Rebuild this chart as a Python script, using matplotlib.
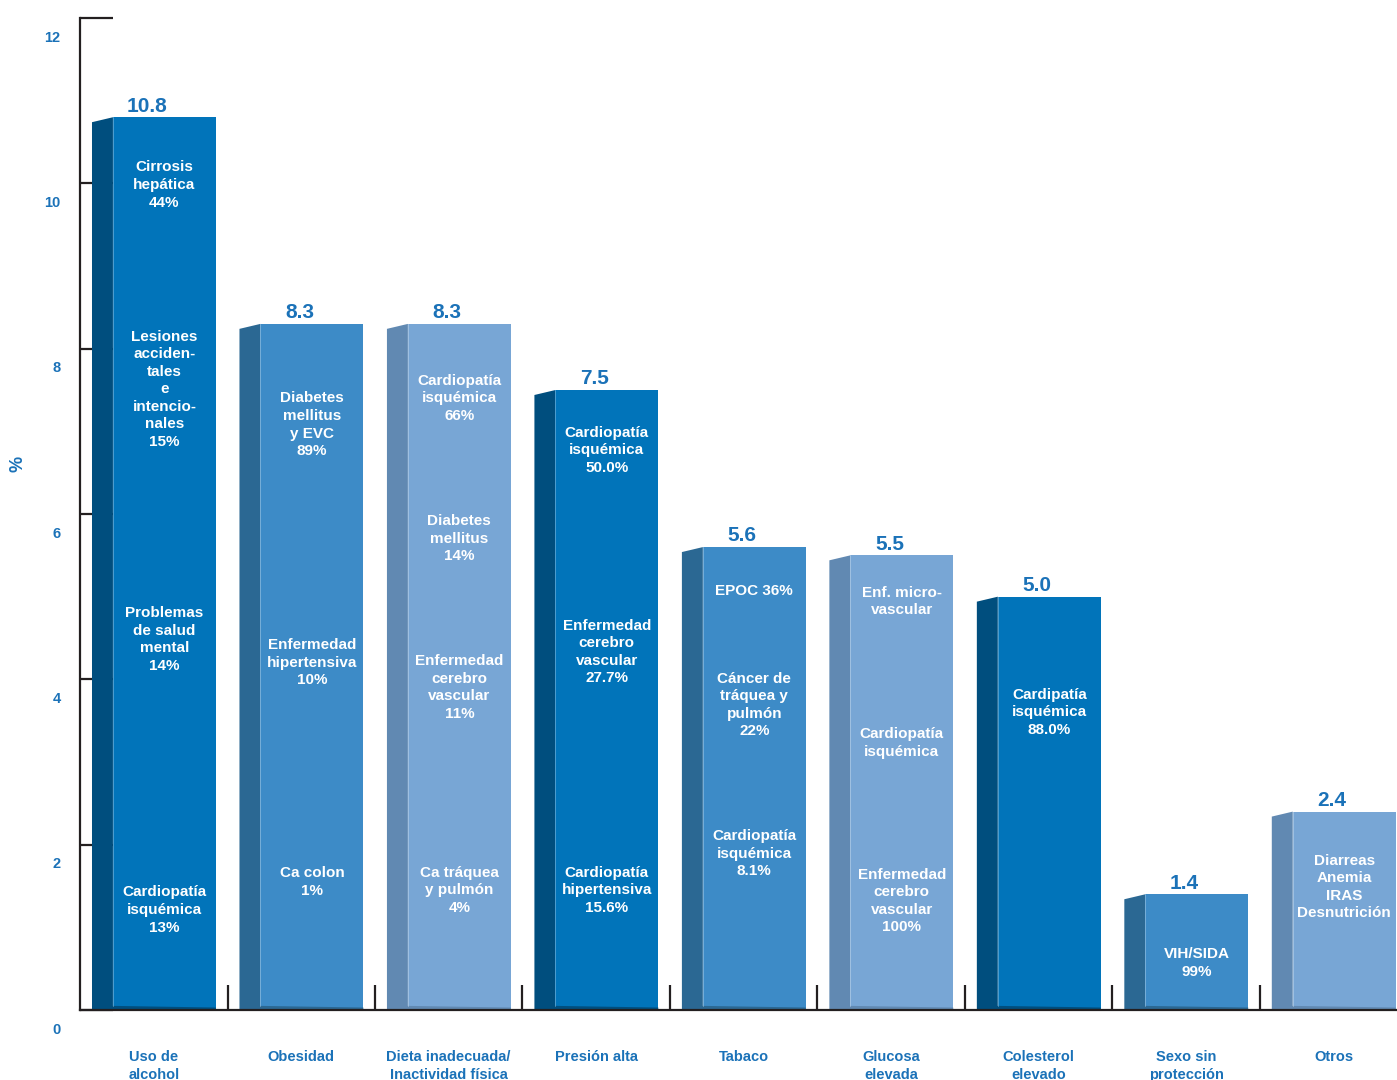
#!/usr/bin/env python3

"""Draws the risk-factor attributable burden bars with causes written inside."""

import matplotlib as mpl
import matplotlib.pyplot as plt
import matplotlib.transforms as mtransforms
from matplotlib.patches import Polygon, Rectangle

mpl.use("Agg")

categories = [
    "Uso de\nalcohol",
    "Obesidad",
    "Dieta inadecuada/\nInactividad física",
    "Presión alta",
    "Tabaco",
    "Glucosa\nelevada",
    "Colesterol\nelevado",
    "Sexo sin\nprotección",
    "Otros",
]
values = [10.8, 8.3, 8.3, 7.5, 5.6, 5.5, 5.0, 1.4, 2.4]
value_labels = ["10.8", "8.3", "8.3", "7.5", "5.6", "5.5", "5.0", "1.4", "2.4"]

# causes written inside each bar: (text, height on the % scale)
causes = [
    [("Cirrosis\nhepática\n44%", 9.98),
     ("Lesiones\nacciden-\ntales\ne\nintencio-\nnales\n15%", 7.51),
     ("Problemas\nde salud\nmental\n14%", 4.48),
     ("Cardiopatía\nisquémica\n13%", 1.21)],
    [("Diabetes\nmellitus\ny EVC\n89%", 7.08),
     ("Enfermedad\nhipertensiva\n10%", 4.20),
     ("Ca colon\n1%", 1.55)],
    [("Cardiopatía\nisquémica\n66%", 7.40),
     ("Diabetes\nmellitus\n14%", 5.70),
     ("Enfermedad\ncerebro\nvascular\n11%", 3.90),
     ("Ca tráquea\ny pulmón\n4%", 1.45)],
    [("Cardiopatía\nisquémica\n50.0%", 6.77),
     ("Enfermedad\ncerebro\nvascular\n27.7%", 4.33),
     ("Cardiopatía\nhipertensiva\n15.6%", 1.45)],
    [("EPOC 36%", 5.07),
     ("Cáncer de\ntráquea y\npulmón\n22%", 3.69),
     ("Cardiopatía\nisquémica\n8.1%", 1.89)],
    [("Enf. micro-\nvascular", 4.94),
     ("Cardiopatía\nisquémica", 3.23),
     ("Enfermedad\ncerebro\nvascular\n100%", 1.32)],
    [("Cardipatía\nisquémica\n88.0%", 3.60)],
    [("VIH/SIDA\n99%", 0.57)],
    [("Diarreas\nAnemia\nIRAS\nDesnutrición", 1.49)],
]

# front / side colours: dark, medium, light blue
shades = {
    "dark": ("#0174BA", "#004E7E"),
    "mid": ("#3D8BC7", "#2B6893"),
    "light": ("#78A6D5", "#6189B2"),
}
bar_shade = ["dark", "mid", "light", "dark", "mid", "light", "dark", "mid", "light"]

BLUE = "#1B72B8"
AXIS = "#231F20"
plt.rcParams["font.family"] = ["Liberation Sans", "DejaVu Sans"]
plt.rcParams["font.weight"] = "bold"


def main():
    fig = plt.figure(figsize=(13.97, 10.8), dpi=100)
    ax = fig.add_axes([0.0573, 0.0648, 0.9427, 0.9185])

    side_x, side_w, front_w = 0.081, 0.142, 0.698
    slant = 0.06
    for i, (v, shade) in enumerate(zip(values, bar_shade)):
        front_c, side_c = shades[shade]
        x0 = i + side_x
        x1 = x0 + side_w
        x2 = x1 + front_w
        ax.add_patch(Polygon([(x0, 0), (x0, v - slant), (x1, v), (x1, 0)],
                             closed=True, facecolor=side_c, edgecolor="none",
                             zorder=2))
        ax.add_patch(Rectangle((x1, 0), front_w, v, facecolor=front_c,
                               edgecolor="none", zorder=2))
        # shadowed base of the front face
        ax.add_patch(Polygon([(x0, 0), (x1, 0.05), (x2, 0.03), (x2, 0)],
                             closed=True, facecolor=side_c, edgecolor="none",
                             zorder=2))
        ax.plot([x1, x1], [0.05, v], color="white", lw=0.6, alpha=0.35,
                zorder=2)

        lx = i + (0.455 if i == 0 else 0.49)
        ax.text(lx, v + 0.02, value_labels[i], ha="center", va="bottom",
                fontsize=15, color=BLUE, zorder=3)

        for text, y in causes[i]:
            ax.text(x1 + front_w / 2, y, text, ha="center", va="center",
                    fontsize=11, color="white", linespacing=1.32, zorder=3)

    ax.set_xlim(0, 8.93)
    ax.set_ylim(0, 12)

    for s in ("top", "right"):
        ax.spines[s].set_visible(False)
    for s in ("left", "bottom"):
        ax.spines[s].set_color(AXIS)
        ax.spines[s].set_linewidth(1.6)
        ax.spines[s].set_zorder(4)

    ax.set_yticks(range(0, 13, 2))
    ax.tick_params(axis="y", direction="in", length=24, width=1.6,
                   color=AXIS, labelsize=10.5, labelcolor=BLUE, pad=14)
    offset = mtransforms.ScaledTranslation(0, -0.18, fig.dpi_scale_trans)
    for lab in ax.get_yticklabels():
        lab.set_transform(lab.get_transform() + offset)
        lab.set_fontweight("bold")
    for t in ax.yaxis.get_major_ticks():
        t.tick1line.set_zorder(4)

    ax.set_xticks(range(1, 9))
    ax.tick_params(axis="x", which="major", direction="in", length=18,
                   width=1.6, color=AXIS, labelbottom=False)
    ax.set_xticks([i + 0.5 for i in range(len(categories))], minor=True)
    ax.set_xticklabels(categories, minor=True, fontsize=10.5, color=BLUE,
                       fontweight="bold", va="top", linespacing=1.3)
    ax.tick_params(axis="x", which="minor", length=0, pad=29)

    fig.text(0.013, 0.57, "%", rotation=90, ha="center", va="center",
             fontsize=13, color=BLUE, fontweight="bold")

    fig.savefig("out.png", dpi=100)


if __name__ == "__main__":
    main()
